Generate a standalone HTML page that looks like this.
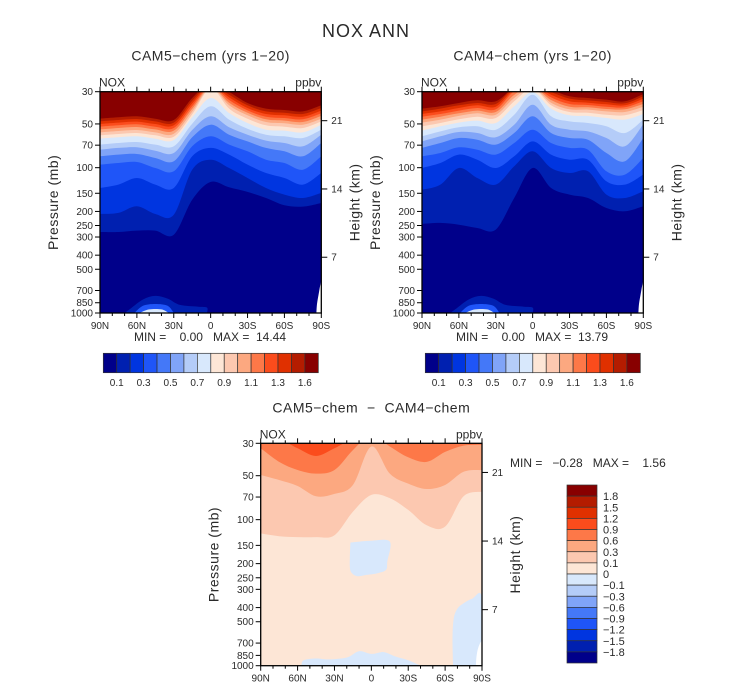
<!DOCTYPE html>
<html><head><meta charset="utf-8"><style>
html,body{margin:0;padding:0;background:#fff}
svg{display:block}
text{font-family:"Liberation Sans",sans-serif;fill:#2a2a2a;white-space:pre}
</style></head><body>
<svg id="fig" width="733" height="689" viewBox="0 0 733 689" xmlns="http://www.w3.org/2000/svg">
<text x="366" y="37" font-size="18" text-anchor="middle" letter-spacing="1">NOX ANN</text>
</svg>
<script>
// ---- data: latitudes of columns (deg, + = N) ----
const lats = [90,75,60,45,30,15,0,-15,-30,-45,-60,-75,-90];
const levelLabels = ["0.1","0.3","0.5","0.7","0.9","1.1","1.3","1.6"];
const pressTicks = [30,50,70,100,150,200,250,300,400,500,700,850,1000];
const heightTicks = [21,14,7];
const latTickLabels = ["90N","60N","30N","0","30S","60S","90S"];
// CAM5 boundary heights (km) per column, levels 1.6 -> 0.1
const cam5c90N=[21.56,21.26,20.97,20.67,20.37,20.04,19.71,19.34,18.68,18.12,17.38,16.46,13.87,10.98,8.99];
const cam5c75N=[21.71,21.41,21.12,20.82,20.52,20.19,19.86,19.49,18.86,18.31,17.57,16.64,14.24,11.1,8.99];
const cam5c60N=[21.82,21.52,21.23,20.93,20.63,20.3,19.97,19.6,18.97,18.38,17.64,16.75,14.98,11.84,9.14];
const cam5c45N=[21.56,21.26,20.97,20.67,20.37,20.04,19.71,19.34,18.68,18.01,17.2,16.09,14.24,10.98,9.14];
const cam5c30N=[21.41,21.12,20.82,20.52,20.23,19.89,19.56,19.19,18.49,17.75,16.83,15.72,13.87,10.91,8.69];
const cam5c15N=[23.85,23.55,23.25,22.95,22.65,22.35,22.05,21.7,21.0,20.3,19.49,18.49,17.38,15.9,12.57];
const cam5c0=[25.5,25.4,25.3,25.2,25.1,25.0,24.9,23.85,22.93,21.82,20.89,19.6,18.31,17.01,14.54];
const cam5c15S=[24.52,24.22,23.92,23.63,23.33,23.04,22.67,22.19,21.45,20.6,19.78,18.68,17.57,16.09,13.94];
const cam5c30S=[23.3,23.04,22.74,22.48,22.22,21.93,21.56,21.08,20.45,19.78,19.04,17.94,16.46,14.98,13.43];
const cam5c45S=[22.67,22.37,22.08,21.78,21.49,21.19,20.82,20.34,19.78,19.12,18.31,17.01,15.53,13.87,12.76];
const cam5c60S=[22.52,22.22,21.93,21.63,21.34,21.04,20.67,20.23,19.6,18.86,17.94,16.64,14.98,13.13,11.95];
const cam5c75S=[22.37,22.08,21.78,21.49,21.19,20.89,20.52,20.04,19.41,18.49,17.38,15.9,14.24,12.76,11.8];
const cam5c90S=[23.04,22.74,22.45,22.15,21.86,21.56,21.26,20.89,20.34,19.78,18.86,17.38,15.53,13.32,12.2];
// CAM4 boundary heights (km)
const cam4c90N=[22.67,22.37,22.08,21.78,21.45,21.12,20.71,20.23,19.6,19.04,18.31,17.38,16.09,13.68,9.88];
const cam4c75N=[22.93,22.67,22.37,22.08,21.78,21.45,21.08,20.71,20.15,19.6,18.86,17.75,16.64,14.24,9.99];
const cam4c60N=[23.3,23.04,22.74,22.45,22.15,21.86,21.49,21.12,20.6,20.08,19.41,18.38,17.57,16.09,9.8];
const cam4c45N=[23.6,23.3,23.04,22.74,22.45,22.15,21.78,21.34,20.71,19.97,19.23,18.12,17.01,14.98,9.43];
const cam4c30N=[23.48,23.19,22.89,22.6,22.3,22.0,21.63,21.08,20.34,19.49,18.68,17.57,16.09,14.24,9.25];
const cam4c15N=[25,25,24.8,24.6,24.2,23.85,23.48,22.93,22.0,20.89,19.97,18.86,17.38,16.27,12.76];
const cam4c0=[25.5,25.4,25.3,25.2,25.1,25.0,24.9,24.5,24.22,23.11,21.82,20.34,19.04,17.94,16.09];
const cam4c15S=[24.77,24.52,24.22,23.92,23.63,23.33,23.04,22.67,21.82,20.89,19.97,18.86,17.57,16.09,13.87];
const cam4c30S=[24.04,23.78,23.48,23.19,22.89,22.6,22.3,21.93,21.26,20.34,19.41,18.31,17.01,15.53,13.13];
const cam4c45S=[23.85,23.59,23.33,23.07,22.82,22.56,22.22,21.85,21.08,20.15,19.23,18.12,17.01,15.72,12.76];
const cam4c60S=[23.67,23.41,23.15,22.89,22.63,22.37,22.0,21.63,20.71,19.41,17.75,15.72,14.61,13.13,11.65];
const cam4c75S=[23.48,23.26,23.04,22.82,22.6,22.3,21.93,21.45,19.97,18.49,16.83,15.35,14.24,12.76,11.28];
const cam4c90S=[24.3,24.04,23.78,23.48,23.19,22.89,22.52,22.08,21.45,20.93,19.41,17.2,15.35,13.5,11.84];
// difference boundaries (km) per latitude for levels 0.9, 0.6, 0.3, 0.1
const diffLev09=[25,25,24.0,23.15,24.0,25,25,25,25,25,25,24.5,24.45];
const diffLev06=[24.0,22.5,21.6,21.2,21.6,23.8,25.5,24.2,23.0,22.5,23.6,24.3,24.4];
const diffLev03=[21.05,20.5,19.84,18.7,18.96,19.95,24.2,21.2,20.1,19.5,19.95,21.4,21.6];
const diffLev01=[14.6,14.3,14.2,14.2,14.4,17.0,18.85,18.5,17.2,15.5,15.35,18.7,19.2];
const diffNegBox=[[17,13.6],[0,13.8],[-15,13.7],[-13,11.5],[-12,10.6],[-5,10.2],[5,10.0],[12,9.9],[17,10.5],[17.5,12]];
const diffNegSouth=[[-66.5,0],[-66,3],[-67,5.2],[-70,6.3],[-75,6.9],[-82,7.4],[-90,7.5],[-90,0]];
const diffNegSurface=[[57,0],[55,0.6],[45,0.8],[35,0.7],[20,0.9],[10,1.6],[0,1.3],[-10,1.5],[-20,1.0],[-30,0.6],[-40,0]];
const missingCorner=[[-86,0],[-86.5,1.0],[-88,2.2],[-89,3.0],[-90,3.2],[-90,0]];
const blobL1=[[70,0],[65,0.5],[55,1.5],[45,1.9],[35,1.6],[25,0.9],[10,0.7],[3,0.6],[3,0]];
const blobL3=[[62,0],[55,0.8],[45,1.0],[35,0.8],[30,0]];
const blobL6=[[58,0],[50,0.4],[40,0.4],[34,0]];

const cam5Cols=[cam5c90N,cam5c75N,cam5c60N,cam5c45N,cam5c30N,cam5c15N,cam5c0,cam5c15S,cam5c30S,cam5c45S,cam5c60S,cam5c75S,cam5c90S];
const cam4Cols=[cam4c90N,cam4c75N,cam4c60N,cam4c45N,cam4c30N,cam4c15N,cam4c0,cam4c15S,cam4c30S,cam4c45S,cam4c60S,cam4c75S,cam4c90S];

const pal=["#00008a","#0020b0","#0035e0","#1f55f8","#4478f8","#80a4f8","#b4ccf8","#d8e8fc","#fde6d6","#fcc8b0","#fca880","#fd7848","#fb4c1c","#e03000","#b41c00","#880000"];
const diffLabels=["1.8","1.5","1.2","0.9","0.6","0.3","0.1","0","\u22120.1","\u22120.3","\u22120.6","\u22120.9","\u22121.2","\u22121.5","\u22121.8"];
const ZTOP=24.55;
const NS="http://www.w3.org/2000/svg";
const svg=document.getElementById('fig');
function mk(tag,attrs,parent){const e=document.createElementNS(NS,tag);for(const k in attrs)e.setAttribute(k,attrs[k]);(parent||svg).appendChild(e);return e;}

function curvePath(pts){
  let d="M"+pts[0][0].toFixed(1)+","+pts[0][1].toFixed(1);
  for(let i=0;i<pts.length-1;i++){
    const p0=pts[Math.max(0,i-1)],p1=pts[i],p2=pts[i+1],p3=pts[Math.min(pts.length-1,i+2)];
    const c1=[p1[0]+(p2[0]-p0[0])/6,p1[1]+(p2[1]-p0[1])/6];
    const c2=[p2[0]-(p3[0]-p1[0])/6,p2[1]-(p3[1]-p1[1])/6];
    d+="C"+c1[0].toFixed(1)+","+c1[1].toFixed(1)+" "+c2[0].toFixed(1)+","+c2[1].toFixed(1)+" "+p2[0].toFixed(1)+","+p2[1].toFixed(1);
  }
  return d;
}

function panel(id,x0,y0,w,h,title,titleName){
  const X=lat=>x0+(90-lat)/180*w;
  const Y=z=>y0+(1-z/ZTOP)*h;
  const YP=p=>y0+Math.log(p/30)/Math.log(1000/30)*h;
  const YH=z=>y0+(1.0565-0.04407*z)*h;
  const g=mk('g',{});
  
  
  const cp=mk('clipPath',{id:id+'clip'},g);
  mk('rect',{x:x0,y:y0,width:w,height:h},cp);
  const plot=mk('g',{'clip-path':'url(#'+id+'clip)'},g);
  
  
  function fillAbove(zs,color,name){
    const pts=lats.map((la,i)=>[X(la),Y(zs[i])]);
    const d=curvePath(pts)+"L"+(x0+w+2)+","+(y0-2)+"L"+(x0-2)+","+(y0-2)+"Z";
    const e=mk('path',{d:d,fill:color},plot);
    
    
  }
  function poly(arr,color,name){
    const d=curvePath(arr.map(q=>[X(q[0]),Y(q[1])]))+"Z";
    const e=mk('path',{d:d,fill:color},plot);
    
    
  }
  function axes(){
    mk('rect',{x:x0,y:y0,width:w,height:h,fill:'none',stroke:'#000','stroke-width':1.3},g);
    for(let la=90;la>=-90;la-=10){
      const x=X(la),maj=(la%30===0);
      const L=maj?5:3;
      mk('line',{x1:x,y1:y0,x2:x,y2:y0-L,stroke:'#000','stroke-width':1},g);
      mk('line',{x1:x,y1:y0+h,x2:x,y2:y0+h+L,stroke:'#000','stroke-width':1},g);
    }
    latTickLabels.forEach((s,i)=>{
      const t=mk('text',{x:X(90-30*i),y:y0+h+16,'font-size':10,'text-anchor':'middle'},g);
      t.textContent=s;
      
      
    });
    pressTicks.forEach(p=>{
      const y=YP(p);
      mk('line',{x1:x0,y1:y,x2:x0-5,y2:y,stroke:'#000','stroke-width':1},g);
      const t=mk('text',{x:x0-7,y:y+3.5,'font-size':10,'text-anchor':'end'},g);
      t.textContent=p;
      
      
    });
    heightTicks.forEach(z=>{
      const y=YH(z);
      mk('line',{x1:x0+w,y1:y,x2:x0+w+6,y2:y,stroke:'#000','stroke-width':1},g);
      const t=mk('text',{x:x0+w+10,y:y+3.5,'font-size':10},g);
      t.textContent=z;
      
      
    });
    let t=mk('text',{x:x0+w/2,y:y0-31,'font-size':14,'text-anchor':'middle','letter-spacing':0.5},g);
    t.textContent=title;  
    t=mk('text',{x:x0-1,y:y0-5,'font-size':12},g);
    t.textContent="NOX";  
    t=mk('text',{x:x0+w,y:y0-5,'font-size':12,'text-anchor':'end'},g);
    t.textContent="ppbv";  
    t=mk('text',{x:x0-42,y:y0+h/2,'font-size':14,'text-anchor':'middle',transform:'rotate(-90 '+(x0-42)+' '+(y0+h/2)+')','letter-spacing':0.5},g);
    t.textContent="Pressure (mb)";  
    t=mk('text',{x:x0+w+38,y:y0+h/2,'font-size':14,'text-anchor':'middle',transform:'rotate(-90 '+(x0+w+38)+' '+(y0+h/2)+')','letter-spacing':0.5},g);
    t.textContent="Height (km)";  
  }
  return {X,Y,g,plot,fillAbove,poly,axes};
}

function absPanel(id,x0,cols,title,minmax,blobShift){
  const P=panel(id,x0,91.7,221.3,221.3,title,id+'-title');
  mk('rect',{x:x0,y:91.7,width:221.3,height:221.3,fill:pal[0]},P.plot);
  for(let k=14;k>=0;k--){
    const zs=cols.map(c=>c[k]);
    P.fillAbove(zs,pal[15-k],'band-level-'+(15-k));
  }
  const sh=a=>a.map(q=>[q[0]+blobShift,q[1]]);
  P.poly(sh(blobL1),pal[1],'surface-band-1');
  P.poly(sh(blobL3),pal[3],'surface-band-3');
  P.poly(sh(blobL6),pal[7],'surface-band-7');
  P.poly(missingCorner,'#ffffff','missing-data');
  P.axes();
  const t=mk('text',{x:x0+110,y:341,'font-size':12,'text-anchor':'middle'},P.g);
  t.textContent=minmax;  
  const cb=mk('g',{},P.g);
   
  const cx=x0+3.3,bw=215/16;
  pal.forEach((c,i)=>{
    const r=mk('rect',{x:cx+i*bw,y:353.3,width:bw,height:19.4,fill:c,stroke:'#333','stroke-width':0.7},cb);
     
  });
  levelLabels.forEach((s,i)=>{
    const l=mk('text',{x:cx+(2*i+1)*bw,y:386,'font-size':10,'text-anchor':'middle'},cb);
    l.textContent=s;  
  });
}
absPanel('cam5',100,cam5Cols,'CAM5\u2212chem (yrs 1\u221220)','MIN =    0.00   MAX =  14.44',0);
absPanel('cam4',422,cam4Cols,'CAM4\u2212chem (yrs 1\u221220)','MIN =    0.00   MAX =  13.79',-3);

const D=panel('diff',260.7,443.3,221.3,222.4,'CAM5\u2212chem  \u2212  CAM4\u2212chem','diff-title');
mk('rect',{x:260.7,y:443.3,width:221.3,height:222.4,fill:pal[8]},D.plot);
D.fillAbove(diffLev01,pal[9],'diff-band-0.1');
D.fillAbove(diffLev03,pal[10],'diff-band-0.3');
D.fillAbove(diffLev06,pal[11],'diff-band-0.6');
D.fillAbove(diffLev09,pal[12],'diff-band-0.9');
D.poly(diffNegBox,pal[7],'diff-negative-tropics');
D.poly(diffNegSouth,pal[7],'diff-negative-south');
D.poly(diffNegSurface,pal[7],'diff-negative-surface');
D.poly([[-85,0],[-85.5,1.0],[-87,2.0],[-90,2.6],[-90,0]],'#ffffff','missing-data');
D.axes();
{
  const t=mk('text',{x:510,y:467,'font-size':12},D.g);
  t.textContent='MIN =   \u22120.28   MAX =    1.56';
   
  const cb=mk('g',{},D.g);
   
  const bh=178/16;
  for(let i=0;i<16;i++){
    const r=mk('rect',{x:567,y:485+i*bh,width:30,height:bh,fill:pal[15-i],stroke:'#333','stroke-width':0.7},cb);
     
  }
  diffLabels.forEach((s,i)=>{
    const l=mk('text',{x:603,y:485+(i+1)*bh+4,'font-size':11},cb);
    l.textContent=s;  
  });
}
</script>
</body></html>
